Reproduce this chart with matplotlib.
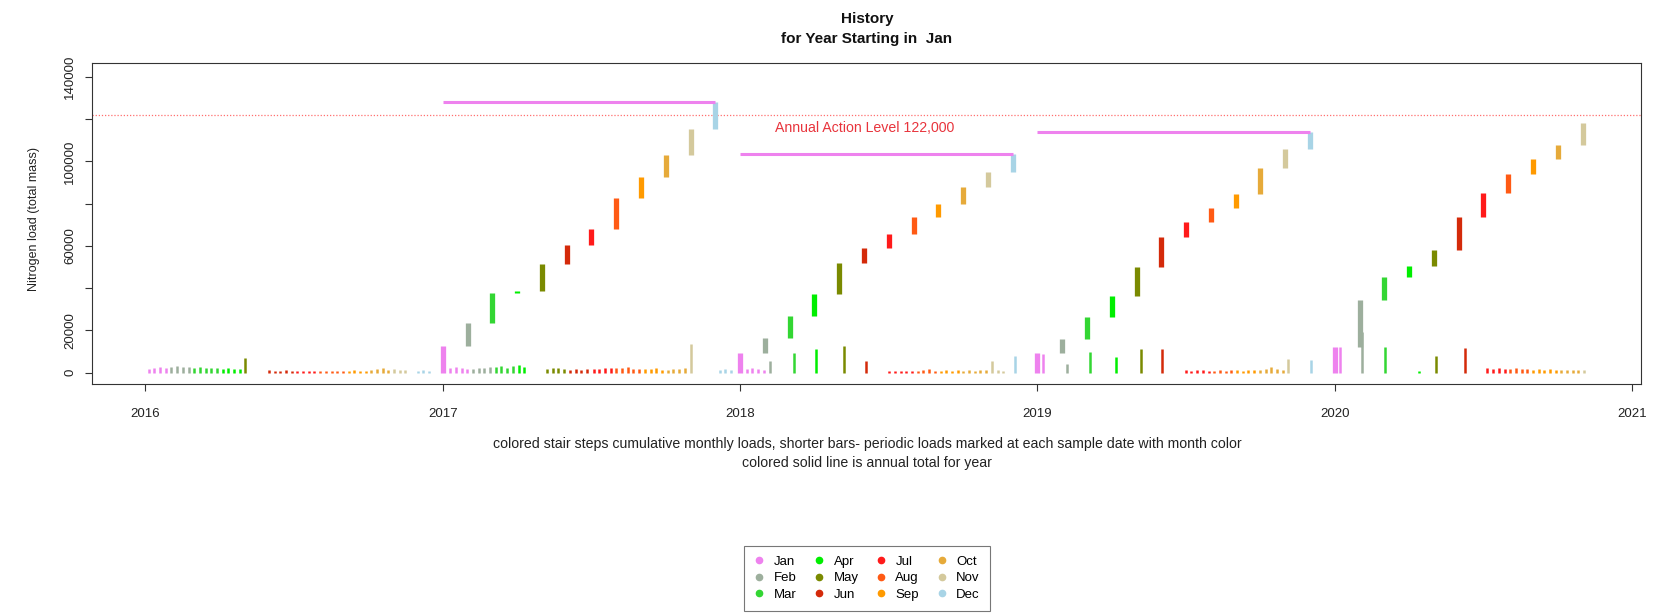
import matplotlib
matplotlib.use("Agg")
import matplotlib.pyplot as plt
from matplotlib.lines import Line2D
import pandas as pd
import numpy as np

plt.rcParams['font.family'] = ['Liberation Sans', 'DejaVu Sans']

# ---------------- data ----------------
month_names = ["Jan", "Feb", "Mar", "Apr", "May", "Jun",
               "Jul", "Aug", "Sep", "Oct", "Nov", "Dec"]
month_colors = ["#EE82EE", "#9DAF9D", "#33D633", "#00EE00", "#7A8A00", "#D42A0A",
                "#FF1A1A", "#FF5A14", "#FF9A00", "#E6AA3A", "#D4C99C", "#A8D4E6"]

# cumulative monthly loads (stair steps) per year
stair_years = [2017, 2018, 2019, 2020]
cum_2017 = [12500, 23300, 37550, 38900, 51400, 60400, 68000, 82800, 92750, 102900, 115300, 128300]
cum_2018 = [9400, 16300, 26800, 37100, 52000, 59000, 65500, 73800, 79800, 88000, 94900, 103500]
cum_2019 = [9500, 16100, 26300, 36300, 50000, 64300, 71500, 78100, 84500, 96800, 106000, 113900]
cum_2020 = [12300, 34500, 45200, 50300, 58300, 73900, 85000, 94000, 101000, 108000, 118100]
cum_by_year = [cum_2017, cum_2018, cum_2019, cum_2020]

# annual totals (complete years only)
total_years = [2017, 2018, 2019]
total_values = [128300, 103500, 113900]

action_level = 122000

# periodic loads at each sample date
sample_dates = [
    # 2016
    "2016-01-05", "2016-01-12", "2016-01-19", "2016-01-26",
    "2016-02-02", "2016-02-09", "2016-02-16", "2016-02-23",
    "2016-03-01", "2016-03-08", "2016-03-15", "2016-03-22", "2016-03-29",
    "2016-04-05", "2016-04-12", "2016-04-19", "2016-04-26",
    "2016-05-03",
    "2016-06-01", "2016-06-08", "2016-06-15", "2016-06-22", "2016-06-29",
    "2016-07-06", "2016-07-13", "2016-07-20", "2016-07-27",
    "2016-08-03", "2016-08-10", "2016-08-17", "2016-08-24", "2016-08-31",
    "2016-09-07", "2016-09-14", "2016-09-21", "2016-09-28",
    "2016-10-05", "2016-10-12", "2016-10-19", "2016-10-26",
    "2016-11-02", "2016-11-09", "2016-11-16",
    "2016-12-01", "2016-12-08", "2016-12-15",
    # 2017
    "2017-01-10", "2017-01-17", "2017-01-24", "2017-01-31",
    "2017-02-07", "2017-02-14", "2017-02-21", "2017-02-28",
    "2017-03-07", "2017-03-14", "2017-03-21", "2017-03-28",
    "2017-04-04", "2017-04-11",
    "2017-05-09", "2017-05-16", "2017-05-23", "2017-05-30",
    "2017-06-06", "2017-06-13", "2017-06-20", "2017-06-27",
    "2017-07-05", "2017-07-12", "2017-07-19", "2017-07-26",
    "2017-08-02", "2017-08-09", "2017-08-16", "2017-08-23", "2017-08-30",
    "2017-09-06", "2017-09-13", "2017-09-20", "2017-09-27",
    "2017-10-04", "2017-10-11", "2017-10-18", "2017-10-25",
    "2017-11-02",
    "2017-12-07", "2017-12-14", "2017-12-21",
    # 2018
    "2018-01-09", "2018-01-16", "2018-01-23", "2018-01-30",
    "2018-02-07", "2018-03-08", "2018-04-04", "2018-05-08", "2018-06-04",
    "2018-07-03", "2018-07-10", "2018-07-17", "2018-07-24", "2018-07-31",
    "2018-08-07", "2018-08-14", "2018-08-21", "2018-08-28",
    "2018-09-04", "2018-09-11", "2018-09-18", "2018-09-25",
    "2018-10-02", "2018-10-09", "2018-10-16", "2018-10-23", "2018-10-30",
    "2018-11-06", "2018-11-13", "2018-11-20",
    "2018-12-04",
    # 2019
    "2019-01-08", "2019-02-06", "2019-03-07", "2019-04-08", "2019-05-08", "2019-06-03",
    "2019-07-02", "2019-07-09", "2019-07-16", "2019-07-23", "2019-07-30",
    "2019-08-06", "2019-08-13", "2019-08-20", "2019-08-27",
    "2019-09-03", "2019-09-10", "2019-09-17", "2019-09-24",
    "2019-10-01", "2019-10-08", "2019-10-15", "2019-10-22", "2019-10-29",
    "2019-11-05", "2019-12-03",
    # 2020
    "2020-01-07", "2020-02-04", "2020-03-03", "2020-04-14", "2020-05-05", "2020-06-09",
    "2020-07-07", "2020-07-14", "2020-07-21", "2020-07-28",
    "2020-08-04", "2020-08-11", "2020-08-18", "2020-08-25",
    "2020-09-01", "2020-09-08", "2020-09-15", "2020-09-22", "2020-09-29",
    "2020-10-06", "2020-10-13", "2020-10-20", "2020-10-27",
    "2020-11-03",
]
sample_loads = [
    # 2016
    1800, 2300, 2600, 2200,
    2700, 3100, 2500, 2900,
    2200, 2600, 2000, 2400, 2100,
    1900, 2300, 1700, 1800,
    6800,
    1200, 1000, 900, 1100, 800,
    900, 1000, 800, 900,
    800, 700, 900, 800, 1000,
    900, 1100, 800, 1000,
    1200, 1600, 2000, 1400,
    1800, 1500, 1200,
    900, 1200, 1000,
    # 2017
    2200, 2600, 2000, 1800,
    1800, 2400, 2100, 2600,
    2500, 3000, 2400, 3200,
    3400, 2800,
    1800, 2200, 2000, 1600,
    1500, 1700, 1400, 1600,
    1600, 1900, 2300, 2000,
    2400, 2200, 2600, 1900, 1700,
    1800, 1600, 2000, 1500,
    1500, 1700, 1900, 2200,
    13400,
    1400, 1800, 1500,
    # 2018
    1800, 2100, 1700, 1500,
    5500, 9100, 11200, 12600, 5500,
    700, 900, 600, 800, 700,
    800, 1200, 1600, 1000,
    900, 1100, 800, 1300,
    1000, 1200, 900, 1400, 1100,
    5500, 1200, 900,
    7800,
    # 2019
    9000, 4000, 9900, 7500, 11100, 11100,
    1200, 900, 1500, 1100, 800,
    1000, 1300, 900, 1100,
    1200, 1000, 1400, 1100,
    1300, 1600, 2500, 1800, 1200,
    6500, 6200,
    # 2020
    12000, 19400, 12000, 1000, 7800, 11600,
    2200, 1900, 2400, 1800,
    1700, 2000, 1600, 1800,
    1500, 1800, 1400, 1600, 1300,
    1400, 1200, 1500, 1100,
    1200,
]

x_ticks = [2016, 2017, 2018, 2019, 2020, 2021]
y_ticks = [0, 20000, 40000, 60000, 80000, 100000, 120000, 140000]
y_tick_labels = ["0", "20000", "", "60000", "", "100000", "", "140000"]

# ---------------- figure ----------------
fig = plt.figure(figsize=(16.67, 6.16), dpi=100)
ax = fig.add_axes([0.055, 0.376, 0.9294, 0.5212])

# periodic loads
d = pd.to_datetime(pd.Series(sample_dates))
days_in_year = np.where(d.dt.is_leap_year, 366, 365)
xs = d.dt.year + (d.dt.dayofyear - 1) / days_in_year
cols = [month_colors[m - 1] for m in d.dt.month]
ax.vlines(xs.values, 0, sample_loads, colors=cols, lw=1.8, zorder=2)

# stair steps
for yr, cum in zip(stair_years, cum_by_year):
    prev = [0] + cum[:-1]
    xm = [yr + i / 12 for i in range(len(cum))]
    ax.vlines(xm, prev, cum, colors=month_colors[:len(cum)], lw=3.8, zorder=3)

# annual totals
for yr, tot in zip(total_years, total_values):
    ax.hlines(tot, yr, yr + 11 / 12, colors=month_colors[0], lw=2.2, zorder=3)

# action level
ax.axhline(action_level, color="#FF6F6F", lw=0.9, ls=(0, (1, 1.5)), zorder=1)
ax.text(2018.42, action_level - 6000, "Annual Action Level 122,000",
        color="#E8343C", fontsize=10.2, ha="center", va="center")

ax.set_xlim(2015.819, 2021.03)
ax.set_ylim(-5540, 146450)
ax.set_xticks(x_ticks)
ax.set_xticklabels([str(v) for v in x_ticks])
ax.set_yticks(y_ticks)
ax.set_yticklabels(y_tick_labels, rotation=90, va="center")
ax.tick_params(direction="out", length=5, width=0.8, color="#333333",
               labelsize=9.5, labelcolor="#222222")
ax.tick_params(axis="x", pad=12)
ax.tick_params(axis="y", pad=6)
for s in ax.spines.values():
    s.set_color("#333333")
    s.set_linewidth(0.8)

fig.text(0.0205, 0.645, "Nitrogen load (total mass)", fontsize=9, color="#222222",
         rotation=90, ha="center", va="center")

fig.text(0.52, 0.969, "History", fontsize=11, fontweight="bold",
         ha="center", va="center", color="#111111")
fig.text(0.52, 0.937, "for Year Starting in  Jan", fontsize=11, fontweight="bold",
         ha="center", va="center", color="#111111")

fig.text(0.52, 0.279,
         "colored stair steps cumulative monthly loads, shorter bars- periodic loads marked at each sample date with month color",
         fontsize=10.2, ha="center", va="center", color="#222222")
fig.text(0.52, 0.248, "colored solid line is annual total for year",
         fontsize=10.2, ha="center", va="center", color="#222222")

handles = [Line2D([0], [0], marker="o", color="none", markerfacecolor=c,
                  markeredgecolor=c, markersize=4.5) for c in month_colors]
leg = fig.legend(handles, month_names, loc="center", ncol=4,
                 bbox_to_anchor=(0.52, 0.0615), bbox_transform=fig.transFigure,
                 fontsize=9.5, frameon=True, fancybox=False, handlelength=0.8,
                 handletextpad=0.7, columnspacing=1.3, labelspacing=0.32,
                 borderpad=0.75)
leg.get_frame().set_edgecolor("#555555")
leg.get_frame().set_linewidth(0.8)

fig.savefig("out.png", dpi=100)
